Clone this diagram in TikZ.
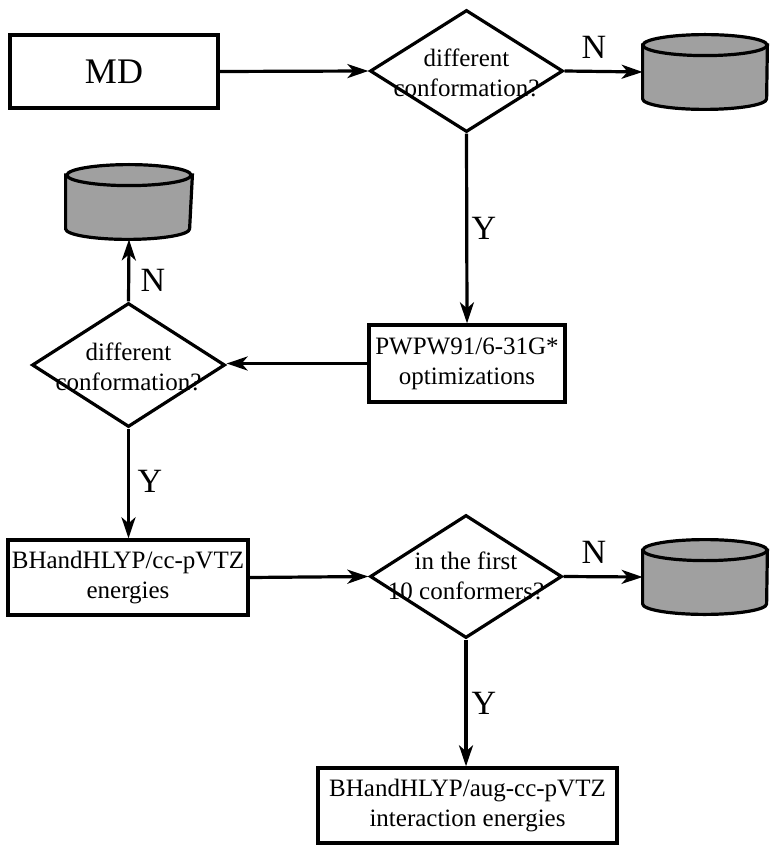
\documentclass[tikz,border=0pt]{standalone}
\usepackage{fontspec}
\setmainfont{Liberation Serif}
\usetikzlibrary{arrows.meta,shapes.geometric}
\tikzset{
  px/.style={x=0.5pt,y=-0.5pt},
  boxnode/.style={draw,line width=1.7pt,inner sep=0pt,align=center,font=\fontsize{12.5}{15}\selectfont},
  dianode/.style={diamond,draw,line width=1.6pt,inner sep=0pt},
  diatext/.style={align=center,inner sep=0pt,font=\fontsize{12.5}{15}\selectfont},
  lbl/.style={inner sep=0pt,font=\fontsize{17}{20}\selectfont},
  cylnode/.style={inner sep=0pt},
  conn/.style={line width=1.6pt,-{Stealth[length=10.5pt,width=7pt,inset=3pt]}},
  cylfill/.style={fill={rgb,255:red,160;green,160;blue,160},draw,line width=1.6pt}
}
\newcommand{\drawcyl}[1]{%
  \path[cylfill] ([yshift=-5.25pt]#1.north west) -- ([yshift=5.25pt]#1.south west)
    arc[start angle=180,end angle=360,x radius=31pt,y radius=5.25pt]
    -- ([yshift=-5.25pt]#1.north east) -- cycle;
  \path[cylfill] ([yshift=-5.25pt]#1.north) ellipse[x radius=31pt,y radius=5.25pt];
}
\begin{document}
\begin{tikzpicture}[px]
\useasboundingbox (0,0) rectangle (779,850);
% boxes
\node[boxnode,minimum width=104pt,minimum height=36.5pt,font=\fontsize{18}{20}\selectfont] (md) at (114,71.5) {MD};
\node[boxnode,minimum width=98pt,minimum height=38.5pt] (pw) at (467,363.5) {PWPW91/6-31G*\\optimizations};
\node[boxnode,minimum width=120pt,minimum height=37.5pt] (bh) at (128,577.5) {BHandHLYP/cc-pVTZ\\energies};
\node[boxnode,minimum width=149.5pt,minimum height=37.5pt] (aug) at (467.5,805.5) {BHandHLYP/aug-cc-pVTZ\\interaction energies};
% diamonds
\node[dianode,minimum width=96.5pt,minimum height=61pt] (d1) at (466.5,71) {};
\node[diatext] (d1t) at (466.5,73) {different\\conformation?};
\node[dianode,minimum width=96.5pt,minimum height=62pt] (d2) at (128.5,365) {};
\node[diatext] (d2t) at (128.5,367) {different\\conformation?};
\node[dianode,minimum width=96pt,minimum height=61.5pt] (d3) at (466,576.5) {};
\node[diatext] (d3t) at (466,576) {in the first\\10 conformers?};
% cylinders
\node[cylnode,minimum width=62pt,minimum height=37pt] (c1) at (705,72) {};
\node[cylnode,minimum width=63pt,minimum height=37pt] (c2) at (129,202) {};
\node[cylnode,minimum width=62pt,minimum height=37pt] (c3) at (705,577) {};
\drawcyl{c1}
\drawcyl{c2}
\drawcyl{c3}
% connectors
\draw[conn] (md.east) -- (d1.west);
\draw[conn] (d1.east) -- (c1.west);
\draw[conn] (d1.south) -- (pw.north);
\draw[conn] (pw.west) -- (d2.east |- pw.west);
\draw[conn] (d2.north) -- (c2.south);
\draw[conn] (d2.south) -- (d2.south |- bh.north);
\draw[conn] (bh.east) -- (d3.west);
\draw[conn] (d3.east) -- (c3.west);
\draw[conn] (d3.south) -- (d3.south |- aug.north);
% labels
\node[lbl] (n1) at (594,47) {N};
\node[lbl] (y1) at (484,228) {Y};
\node[lbl] (n2) at (153,280) {N};
\node[lbl] (y2) at (150,481) {Y};
\node[lbl] (n3) at (594,552) {N};
\node[lbl] (y3) at (484,703) {Y};
\end{tikzpicture}
\end{document}
